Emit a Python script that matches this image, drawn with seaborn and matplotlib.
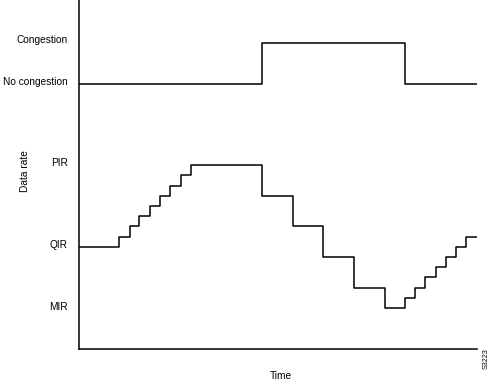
import matplotlib
matplotlib.use("Agg")
import matplotlib.pyplot as plt
import seaborn as sns
import pandas as pd

sns.set_theme(style="white")
plt.rcParams['font.family'] = ['Liberation Sans', 'DejaVu Sans']

# Congestion state (step series)
state_time = [0, 183, 326, 398]
state_level = [265, 306, 265, 265]

# Data rate (step series)
rate_time = [0, 40, 51, 60, 71, 81, 91, 102, 112, 183, 214, 244, 275, 306,
             326, 336, 346, 357, 367, 377, 387, 398]
rate_level = [102, 112, 123, 133, 143, 153, 163, 174, 184, 153, 123, 92, 61, 41,
              51, 61, 72, 82, 92, 102, 112, 112]

ytick_pos = [310, 268, 187, 105, 43]
ytick_labels = ["Congestion", "No congestion", "PIR", "QIR", "MIR"]

W, H = 490, 387
fig = plt.figure(figsize=(W / 100, H / 100), dpi=100)
ax = fig.add_axes([79 / W, (H - 349) / H, 398 / W, 349 / H])

df_state = pd.DataFrame({"t": state_time, "v": state_level})
df_rate = pd.DataFrame({"t": rate_time, "v": rate_level})
sns.lineplot(data=df_state, x="t", y="v", ax=ax, color="black", lw=1.1,
             drawstyle="steps-post", estimator=None, sort=False)
sns.lineplot(data=df_rate, x="t", y="v", ax=ax, color="black", lw=1.1,
             drawstyle="steps-post", estimator=None, sort=False)

ax.set_xlim(0, 398)
ax.set_ylim(0, 349)
for s in ["top", "right"]:
    ax.spines[s].set_visible(False)
for s in ["left", "bottom"]:
    ax.spines[s].set_color("black")
    ax.spines[s].set_linewidth(1.1)
ax.set_xticks([])
ax.set_yticks(ytick_pos)
ax.set_yticklabels(ytick_labels, fontsize=7.3, color="black")
ax.tick_params(axis="y", length=0, pad=8)
ax.set_xlabel("")
ax.set_ylabel("")

fig.text(25 / W, 1 - 171 / H, "Data rate", rotation=90, ha="center", va="center",
         fontsize=7.3, color="black")
fig.text(281 / W, 1 - 376 / H, "Time", ha="center", va="center",
         fontsize=7.3, color="black")
fig.text(486 / W, 1 - 359 / H, "S3223", rotation=90, ha="center", va="center",
         fontsize=5, color="black")

fig.savefig("out.png", dpi=100, facecolor="white")
